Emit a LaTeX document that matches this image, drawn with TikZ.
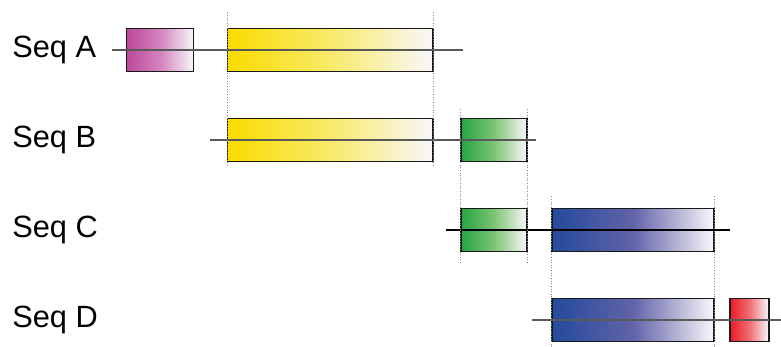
\documentclass[tikz,border=0pt]{standalone}
\usepackage{fontspec}
\setmainfont{Liberation Sans}
\usetikzlibrary{positioning}
\definecolor{segmag}{RGB}{188,72,155}
\definecolor{segmagmid}{RGB}{212,132,188}
\definecolor{segyel}{RGB}{250,220,0}
\definecolor{segyelmid}{RGB}{249,234,105}
\definecolor{seggrn}{RGB}{35,165,65}
\definecolor{seggrnmid}{RGB}{125,195,115}
\definecolor{segblu}{RGB}{35,75,155}
\definecolor{segblumid}{RGB}{98,98,168}
\definecolor{segred}{RGB}{235,25,35}
\definecolor{segredmid}{RGB}{240,110,115}
\definecolor{segend}{RGB}{248,247,251}
\tikzset{seq label/.style={anchor=west,inner sep=0pt,font=\fontsize{17.5}{21}\selectfont},
         segment/.style={rectangle,draw=black!90,line width=0.85pt,anchor=west,
                         minimum height=0.86cm,inner sep=0pt,right color=segend},
         backbone/.style={draw=black!65,line width=0.6pt},
         guide/.style={draw=black!45,densely dotted,line width=0.5pt}
}

\begin{document}
\begin{tikzpicture}
\useasboundingbox (0,0) rectangle (15.62,6.94);

% sequence names
\node[seq label] (la) at (0.24,5.94) {Seq A};
\node[seq label] (lb) at (0.24,4.14) {Seq B};
\node[seq label] (lc) at (0.24,2.34) {Seq C};
\node[seq label] (ld) at (0.24,0.54) {Seq D};

% shaded segments
\node[segment,left color=segmag,middle color=segmagmid,minimum width=1.34cm] (mA) at (2.52,5.94) {};
\node[segment,left color=segyel,middle color=segyelmid,minimum width=4.10cm] (yA) at (4.54,5.94) {};
\node[segment,left color=segyel,middle color=segyelmid,minimum width=4.10cm] (yB) at (4.54,4.14) {};
\node[segment,left color=seggrn,middle color=seggrnmid,minimum width=1.32cm] (gB) at (9.20,4.14) {};
\node[segment,left color=seggrn,middle color=seggrnmid,minimum width=1.32cm] (gC) at (9.20,2.34) {};
\node[segment,left color=segblu,middle color=segblumid,minimum width=3.24cm] (bC) at (11.02,2.34) {};
\node[segment,left color=segblu,middle color=segblumid,minimum width=3.24cm] (bD) at (11.02,0.54) {};
\node[segment,left color=segred,middle color=segredmid,minimum width=0.78cm] (rD) at (14.58,0.54) {};

% backbone ends
\coordinate (a0) at (2.24,5.94);  \coordinate (a1) at (9.26,5.94);
\coordinate (b0) at (4.20,4.14);  \coordinate (b1) at (10.72,4.14);
\coordinate (c0) at (8.92,2.34);  \coordinate (c1) at (14.60,2.34);
\coordinate (d0) at (10.64,0.54); \coordinate (d1) at (15.62,0.54);

\draw[backbone] (a0) -- (a1);
\draw[backbone] (b0) -- (b1);
\draw[backbone,draw=black] (c0) -- (c1);
\draw[backbone] (d0) -- (d1);

% dotted guides between matching segments
\draw[guide] ([yshift=0.31cm]yA.north west) -- ([yshift=-0.11cm]yB.south west);
\draw[guide] ([yshift=0.31cm]yA.north east) -- ([yshift=-0.11cm]yB.south east);
\draw[guide] ([yshift=0.17cm]gB.north west) -- ([yshift=-0.23cm]gC.south west);
\draw[guide] ([yshift=0.17cm]gB.north east) -- ([yshift=-0.23cm]gC.south east);
\draw[guide] ([yshift=0.23cm]bC.north west) -- ([yshift=-0.11cm]bD.south west);
\draw[guide] ([yshift=0.23cm]bC.north east) -- ([yshift=-0.11cm]bD.south east);
\end{tikzpicture}
\end{document}
